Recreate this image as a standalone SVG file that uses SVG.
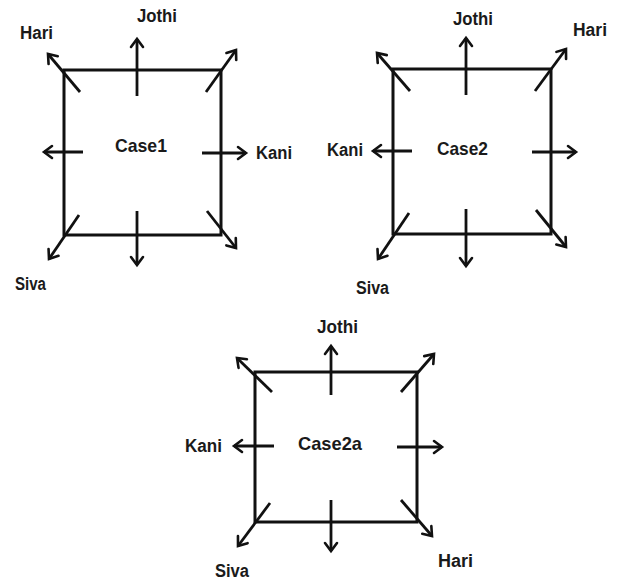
<svg xmlns="http://www.w3.org/2000/svg" width="617" height="583" viewBox="0 0 617 583">
<style>
.box{fill:none;stroke:#111;stroke-width:3}
.ar{fill:none;stroke:#111;stroke-width:2.8;marker-end:url(#ah)}
.lb{font-family:"Liberation Sans",Arial,sans-serif;font-weight:bold;font-size:18px;fill:#1a1a1a}
.cs{font-size:19px}
</style>
<defs>
<marker id="ah" markerUnits="userSpaceOnUse" viewBox="-10 -7 12 14" refX="0" refY="0" markerWidth="12" markerHeight="14" orient="auto" overflow="visible">
<path d="M-8,-6 L0,0 L-8,6" fill="none" stroke="#111" stroke-width="2.6" stroke-linecap="round" stroke-linejoin="miter"/>
</marker>
</defs>
<rect width="617" height="583" fill="#fff"/>
<g id="case1">
<rect class="box" x="64" y="70" width="157" height="165"/>
<text class="lb cs" x="115" y="152" textLength="52" lengthAdjust="spacingAndGlyphs">Case1</text>
</g>
<g id="case2">
<rect class="box" x="393" y="69" width="158" height="165"/>
<text class="lb cs" x="437" y="155" textLength="51" lengthAdjust="spacingAndGlyphs">Case2</text>
</g>
<g id="case2a">
<rect class="box" x="255" y="372" width="162" height="150"/>
<text class="lb cs" x="298" y="450" textLength="64" lengthAdjust="spacingAndGlyphs">Case2a</text>
</g>
<g id="labels">
<text class="lb" x="137" y="22" textLength="40" lengthAdjust="spacingAndGlyphs">Jothi</text>
<text class="lb" x="20" y="39" textLength="33" lengthAdjust="spacingAndGlyphs">Hari</text>
<text class="lb" x="256" y="159" textLength="36" lengthAdjust="spacingAndGlyphs">Kani</text>
<text class="lb" x="15" y="290" textLength="31" lengthAdjust="spacingAndGlyphs">Siva</text>
<text class="lb" x="453" y="25" textLength="40" lengthAdjust="spacingAndGlyphs">Jothi</text>
<text class="lb" x="573" y="36" textLength="34" lengthAdjust="spacingAndGlyphs">Hari</text>
<text class="lb" x="327" y="156" textLength="36" lengthAdjust="spacingAndGlyphs">Kani</text>
<text class="lb" x="356" y="294" textLength="33" lengthAdjust="spacingAndGlyphs">Siva</text>
<text class="lb" x="317" y="333" textLength="41" lengthAdjust="spacingAndGlyphs">Jothi</text>
<text class="lb" x="185" y="452" textLength="37" lengthAdjust="spacingAndGlyphs">Kani</text>
<text class="lb" x="438" y="567" textLength="35" lengthAdjust="spacingAndGlyphs">Hari</text>
<text class="lb" x="215" y="577" textLength="34" lengthAdjust="spacingAndGlyphs">Siva</text>
</g>
<g id="connectors">
<line class="ar" x1="137" y1="96" x2="137" y2="39"/>
<line class="ar" x1="80" y1="92" x2="48" y2="54"/>
<line class="ar" x1="206" y1="92" x2="236" y2="50"/>
<line class="ar" x1="83" y1="152" x2="44" y2="152"/>
<line class="ar" x1="202" y1="153" x2="246" y2="153"/>
<line class="ar" x1="79" y1="215" x2="49" y2="259"/>
<line class="ar" x1="137" y1="211" x2="137" y2="265"/>
<line class="ar" x1="207" y1="211" x2="236" y2="248"/>

<line class="ar" x1="466" y1="95" x2="466" y2="38"/>
<line class="ar" x1="410" y1="91" x2="377" y2="53"/>
<line class="ar" x1="535" y1="91" x2="566" y2="49"/>
<line class="ar" x1="412" y1="151" x2="373" y2="151"/>
<line class="ar" x1="532" y1="152" x2="576" y2="152"/>
<line class="ar" x1="409" y1="213" x2="378" y2="259"/>
<line class="ar" x1="466" y1="209" x2="466" y2="266"/>
<line class="ar" x1="536" y1="210" x2="566" y2="247"/>

<line class="ar" x1="331" y1="395" x2="331" y2="346"/>
<line class="ar" x1="272" y1="392" x2="237" y2="358"/>
<line class="ar" x1="401" y1="392" x2="434" y2="354"/>
<line class="ar" x1="274" y1="446" x2="234" y2="446"/>
<line class="ar" x1="397" y1="447" x2="442" y2="447"/>
<line class="ar" x1="270" y1="503" x2="238" y2="546"/>
<line class="ar" x1="331" y1="500" x2="331" y2="551"/>
<line class="ar" x1="401" y1="500" x2="432" y2="536"/>
</g>
</svg>
